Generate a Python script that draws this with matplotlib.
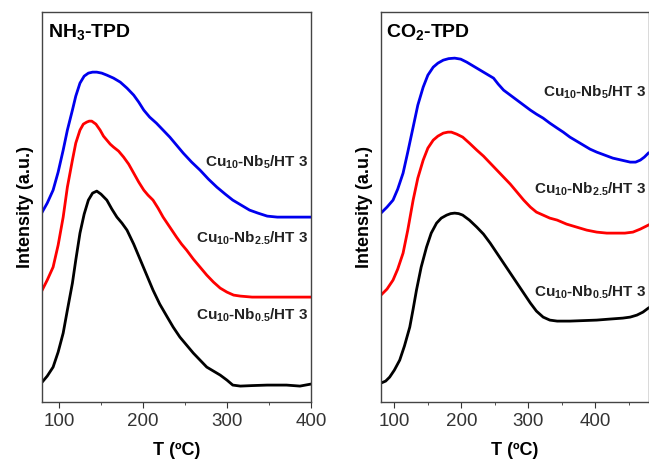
import matplotlib.pyplot as plt
from matplotlib.ticker import MultipleLocator

plt.rcParams['font.family'] = ['Liberation Sans', 'DejaVu Sans']
plt.rcParams['mathtext.fontset'] = 'custom'
plt.rcParams['mathtext.rm'] = 'Liberation Sans:bold'
plt.rcParams['mathtext.bf'] = 'Liberation Sans:bold'
plt.rcParams['mathtext.it'] = 'Liberation Sans:bold'
plt.rcParams['mathtext.default'] = 'bf'

# NH3-TPD, temperature (C) and intensity (a.u., offset curves)
nh3_t_black = [80, 86, 93, 99, 105, 110, 116, 120, 125, 130, 135, 140, 145, 150, 157,
               163, 169, 175, 181, 189, 197, 205, 212, 220, 229, 236, 244, 252, 260,
               268, 276, 284, 292, 300, 307, 316, 330, 348, 360, 371, 387, 400]
nh3_black = [20, 26, 35, 50, 69, 92, 119, 142, 169, 188, 202, 209, 211, 208, 202,
             193, 185, 179, 172, 158, 142, 126, 112, 98, 85, 75, 65, 57, 49,
             42, 35, 31, 27, 22, 17, 16, 16.5, 17, 17, 17, 16, 18]
nh3_t_red = [80, 86, 93, 99, 105, 110, 116, 120, 125, 129, 133, 136, 139, 144, 149,
             153, 157, 161, 165, 171, 177, 183, 189, 195, 201, 206, 212, 218, 224,
             232, 240, 246, 252, 260, 268, 276, 284, 292, 300, 308, 316, 330, 348, 400]
nh3_red = [112, 122, 135, 157, 185, 215, 242, 259, 272, 278, 280, 281, 281, 278, 272,
           266, 262, 258, 255, 251, 245, 238, 229, 220, 212, 207, 202, 194, 185,
           175, 165, 158, 152, 143, 135, 127, 120, 114, 110, 107, 106, 105, 105, 105]
nh3_t_blue = [80, 86, 93, 99, 105, 110, 116, 120, 125, 130, 135, 140, 145, 151, 157,
              165, 173, 181, 189, 195, 201, 208, 216, 224, 232, 240, 248, 258, 268,
              278, 288, 298, 307, 317, 327, 337, 348, 360, 375, 388, 400]
nh3_blue = [190, 199, 212, 230, 252, 272, 292, 306, 319, 326, 329, 330, 330, 329, 327,
            324, 320, 314, 307, 300, 292, 285, 279, 272, 265, 257, 249, 240, 232,
            223, 215, 208, 202, 197, 192, 189, 186, 185, 185, 185, 185]

# CO2-TPD
co2_t_black = [80, 87, 93, 100, 108, 115, 123, 128, 133, 140, 148, 155, 163, 170, 178,
               184, 190, 196, 202, 212, 223, 233, 243, 253, 263, 273, 283, 293, 303,
               312, 322, 332, 343, 362, 382, 402, 421, 441, 452, 462, 471, 479]
co2_black = [19, 21, 25, 32, 42, 56, 75, 93, 112, 135, 155, 169, 179, 184, 187,
             188.5, 189, 188.5, 187, 182, 175, 168, 159, 149, 139, 129, 119, 109, 99,
             91, 85, 82, 81, 81, 81.5, 82, 83, 84, 85, 87, 90, 94]
co2_t_red = [80, 89, 98, 105, 113, 120, 128, 135, 143, 150, 158, 165, 173, 180, 185,
             193, 202, 212, 223, 233, 243, 253, 263, 273, 283, 293, 303, 312, 322,
             332, 343, 357, 372, 387, 402, 417, 432, 444, 456, 467, 479]
co2_red = [107, 113, 122, 133, 149, 172, 202, 224, 242, 254, 262, 266, 269, 270, 270,
           268, 265, 259, 252, 246, 239, 232, 225, 218, 210, 202, 195, 190, 187,
           184, 182, 178, 175, 172, 170, 169, 169, 169, 170, 173, 177]
co2_t_blue = [80, 89, 98, 105, 113, 120, 128, 135, 143, 150, 158, 165, 173, 181, 190,
              199, 208, 218, 228, 238, 248, 255, 263, 273, 283, 293, 303, 312, 322,
              332, 343, 352, 362, 372, 382, 392, 402, 414, 426, 439, 452, 460, 467,
              473, 479]
co2_blue = [189, 195, 202, 213, 229, 250, 275, 297, 315, 327, 335, 339, 342, 343.5, 344,
            343, 340, 336, 332, 328, 324, 318, 312, 307, 302, 297, 292, 288, 284,
            279, 274, 270, 265, 261, 257, 253, 250, 247, 244, 242, 240, 240, 242,
            245, 249]

labels = ['Cu$_{10}$-Nb$_{0.5}$/HT 3',
          'Cu$_{10}$-Nb$_{2.5}$/HT 3',
          'Cu$_{10}$-Nb$_{5}$/HT 3']

fig = plt.figure(figsize=(6.49, 4.67), dpi=100)
ax1 = fig.add_axes([0.065, 0.139, 0.414, 0.835])
ax2 = fig.add_axes([0.587, 0.139, 0.413, 0.835])

ax1.plot(nh3_t_black, nh3_black, color='black', lw=2)
ax1.plot(nh3_t_red, nh3_red, color='#ff0000', lw=2)
ax1.plot(nh3_t_blue, nh3_blue, color='#0000ee', lw=2)
ax1.set_xlim(80, 400)

ax2.plot(co2_t_black, co2_black, color='black', lw=2)
ax2.plot(co2_t_red, co2_red, color='#ff0000', lw=2)
ax2.plot(co2_t_blue, co2_blue, color='#0000ee', lw=2)
ax2.set_xlim(80, 480)

for ax in (ax1, ax2):
    ax.set_ylim(0, 390)
    ax.set_yticks([])
    ax.xaxis.set_major_locator(MultipleLocator(100))
    ax.xaxis.set_minor_locator(MultipleLocator(50))
    ax.tick_params(axis='x', which='major', direction='out', length=4, labelsize=13.5, colors='#333333')
    ax.tick_params(axis='x', which='minor', direction='out', length=2.5, colors='#333333')
    ax.set_xlabel('T (ºC)', fontsize=13, fontweight='bold', labelpad=9)
    ax.set_ylabel('Intensity (a.u.)', fontsize=13, fontweight='bold', labelpad=6)
    for s in ax.spines.values():
        s.set_color('#444444')
        s.set_linewidth(1)

ax1.text(0.02, 0.975, 'NH$_{3}$-TPD', transform=ax1.transAxes, fontsize=14,
         fontweight='bold', va='top', ha='left')
ax2.text(0.02, 0.975, 'CO$_{2}$-TPD', transform=ax2.transAxes, fontsize=14,
         fontweight='bold', va='top', ha='left')

lab1_y = [87, 164, 240]
for lab, y in zip(labels, lab1_y):
    ax1.text(397, y, lab, fontsize=11, fontweight='bold', ha='right', va='center', color='#222222')
lab2_y = [110, 213, 310]
for lab, y in zip(labels, lab2_y):
    ax2.text(476, y, lab, fontsize=11, fontweight='bold', ha='right', va='center', color='#222222')

fig.savefig('out.png', dpi=100)
